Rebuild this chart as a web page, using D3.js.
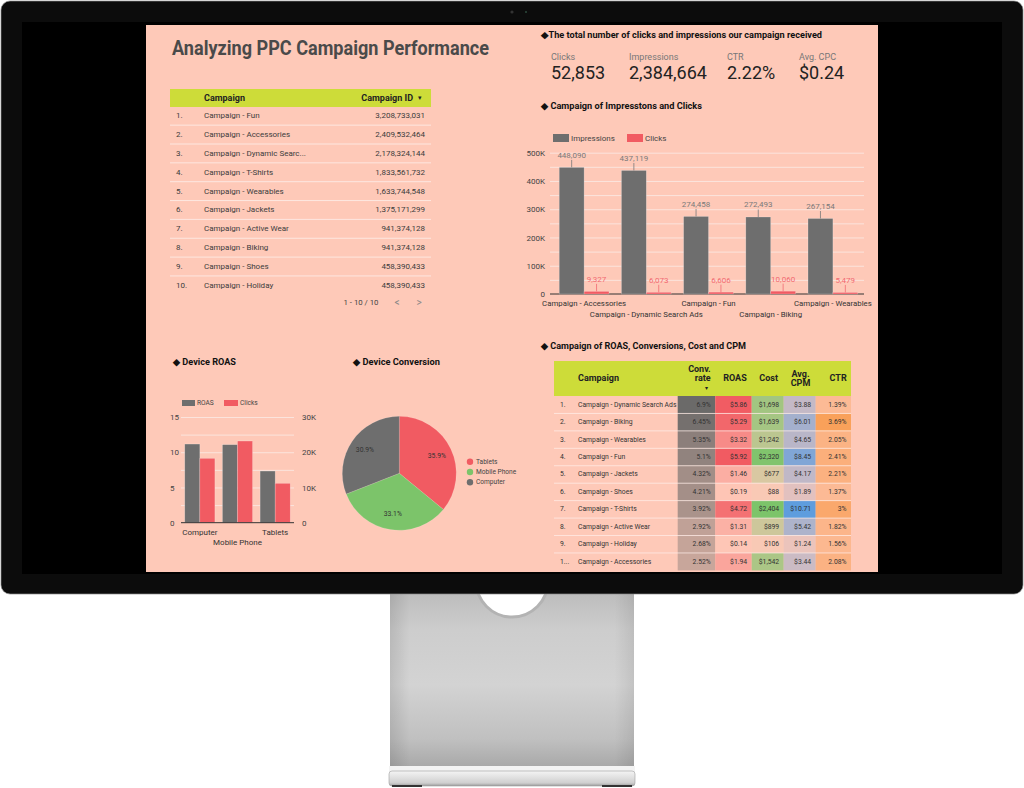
<!DOCTYPE html>
<html><head><meta charset="utf-8">
<script src="https://cdn.jsdelivr.net/npm/d3@7"></script>
<style>
html,body{margin:0;padding:0;background:#fff;}
svg{display:block;font-family:Roboto,"Noto Sans",sans-serif;}
</style></head><body>
<svg id="c" width="1024" height="788"></svg>
<script>
// ---------------- DATA ----------------
const titleText = "Analyzing PPC Campaign Performance";
const idCampaigns = ["Campaign - Fun","Campaign - Accessories","Campaign - Dynamic Search Ads","Campaign - T-Shirts","Campaign - Wearables","Campaign - Jackets","Campaign - Active Wear","Campaign - Biking","Campaign - Shoes","Campaign - Holiday"];
const idValues = [3208733031,2409532464,2178324144,1833561732,1633744548,1375171299,941374128,941374128,458390433,458390433];
const kpiLabels = ["Clicks","Impressions","CTR","Avg. CPC"];
const kpiValues = ["52,853","2,384,664","2.22%","$0.24"];
const barCategories = ["Campaign - Accessories","Campaign - Dynamic Search Ads","Campaign - Fun","Campaign - Biking","Campaign - Wearables"];
const impressions = [448090,437119,274458,272493,267154];
const clicks = [9327,6073,6606,10060,5479];
const barYTicks = [0,100000,200000,300000,400000,500000];
const devices = ["Computer","Mobile Phone","Tablets"];
const deviceROAS = [11.16,11.07,7.33];
const deviceClicks = [18270,23180,11180];
const roasTicks = [0,5,10,15];
const clickTicks = [0,10000,20000,30000];
const pieLabels = ["Tablets","Mobile Phone","Computer"];
const pieValues = [35.9,33.1,30.9];
const perfCampaigns = ["Campaign - Dynamic Search Ads","Campaign - Biking","Campaign - Wearables","Campaign - Fun","Campaign - Jackets","Campaign - Shoes","Campaign - T-Shirts","Campaign - Active Wear","Campaign - Holiday","Campaign - Accessories"];
const convRate = [6.9,6.45,5.35,5.1,4.32,4.21,3.92,2.92,2.68,2.52];
const roasVals = [5.86,5.29,3.32,5.92,1.46,0.19,4.72,1.31,0.14,1.94];
const costVals = [1698,1639,1242,2320,677,88,2404,899,106,1542];
const cpmVals = [3.88,6.01,4.65,8.45,4.17,1.89,10.71,5.42,1.24,3.44];
const ctrVals = [1.39,3.69,2.05,2.41,2.21,1.37,3,1.82,1.56,2.08];

// ---------------- STYLE ----------------
const BG = "#fec9b8", GREEN = "#cddc39", GRAY = "#6e6e6e", RED = "#f15b62", PGREEN = "#7cc46a";
const GRID = "#fbe4dd";
const svg = d3.select("#c");
const defs = svg.append("defs");

function T(p, x, y, s, o = {}) {
  const t = p.append("text").attr("x", x).attr("y", y).text(s)
    .attr("font-size", o.size || 8).attr("fill", o.fill || "#333")
    .attr("text-anchor", o.anchor || "start").attr("dominant-baseline", "central");
  if (o.bold) t.attr("font-weight", "bold");
  if (o.len) t.attr("textLength", o.len).attr("lengthAdjust", "spacingAndGlyphs");
  return t;
}

// ---------------- MONITOR ----------------
const ng = defs.append("linearGradient").attr("id", "neck").attr("x1", 0).attr("y1", 0).attr("x2", 0).attr("y2", 1);
[[0, "#b9b9b9"], [0.25, "#cdcdcd"], [0.55, "#d3d3d3"], [0.85, "#c0c0c0"], [1, "#a9a9a9"]]
  .forEach(([o, c]) => ng.append("stop").attr("offset", o).attr("stop-color", c));
const nh = defs.append("linearGradient").attr("id", "neckH").attr("x1", 0).attr("y1", 0).attr("x2", 1).attr("y2", 0);
[[0, "rgba(0,0,0,0.10)"], [0.08, "rgba(0,0,0,0)"], [0.92, "rgba(0,0,0,0)"], [1, "rgba(0,0,0,0.08)"]]
  .forEach(([o, c]) => nh.append("stop").attr("offset", o).attr("stop-color", c));
const bg2 = defs.append("linearGradient").attr("id", "base").attr("x1", 0).attr("y1", 0).attr("x2", 0).attr("y2", 1);
[[0, "#f4f4f4"], [0.4, "#e2e2e2"], [0.8, "#cfcfcf"], [1, "#9a9a9a"]]
  .forEach(([o, c]) => bg2.append("stop").attr("offset", o).attr("stop-color", c));

svg.append("rect").attr("x", 0).attr("y", 0).attr("width", 1024).attr("height", 788).attr("fill", "#fff");
svg.append("rect").attr("x", 390).attr("y", 585).attr("width", 244).attr("height", 181).attr("fill", "url(#neck)");
svg.append("rect").attr("x", 390).attr("y", 585).attr("width", 244).attr("height", 181).attr("fill", "url(#neckH)");
svg.append("circle").attr("cx", 512).attr("cy", 581).attr("r", 36).attr("fill", "#fff").attr("stroke", "#b3b3b3").attr("stroke-width", 3);
svg.append("rect").attr("x", 389).attr("y", 766).attr("width", 246).attr("height", 6).attr("fill", "#f3f3f3");
svg.append("rect").attr("x", 389).attr("y", 771).attr("width", 246).attr("height", 15).attr("rx", 3).attr("fill", "url(#base)").attr("stroke", "#a0a0a0").attr("stroke-width", 0.6);
svg.append("rect").attr("x", 392).attr("y", 785).attr("width", 30).attr("height", 2).attr("fill", "#333");
svg.append("rect").attr("x", 602).attr("y", 785).attr("width", 30).attr("height", 2).attr("fill", "#333");

svg.append("rect").attr("x", 1).attr("y", 1).attr("width", 1022).attr("height", 593).attr("rx", 9)
  .attr("fill", "#0c0c0c").attr("stroke", "#8a8a8a").attr("stroke-width", 0.7);
svg.append("rect").attr("x", 22).attr("y", 22).attr("width", 980).attr("height", 552).attr("fill", "#000");
svg.append("circle").attr("cx", 512).attr("cy", 12).attr("r", 1.6).attr("fill", "#333");
svg.append("circle").attr("cx", 526).attr("cy", 12).attr("r", 1).attr("fill", "#2c4a3c");

// ---------------- DASHBOARD ----------------
svg.append("rect").attr("x", 146).attr("y", 25).attr("width", 732).attr("height", 547).attr("fill", BG);
T(svg, 172, 48, titleText, {size: 20, bold: true, fill: "#4a4a4a", len: 317});

// Left table
svg.append("rect").attr("x", 170).attr("y", 89).attr("width", 261).attr("height", 18).attr("fill", GREEN);
T(svg, 204, 98, "Campaign", {size: 9, bold: true, fill: "#222"});
T(svg, 413, 98, "Campaign ID", {size: 9, bold: true, fill: "#222", anchor: "end"});
T(svg, 420, 98, "▾", {size: 7, fill: "#222", anchor: "middle"});
const rowsL = d3.scaleBand().domain(d3.range(idCampaigns.length)).range([106.3, 106.3 + 18.85 * idCampaigns.length]);
const trunc = s => s.length > 24 ? s.slice(0, 24) + "..." : s;
const fmtC = d3.format(",");
idCampaigns.forEach((c, i) => {
  const cy = rowsL(i) + rowsL.bandwidth() / 2;
  T(svg, 176, cy, (i + 1) + ".", {size: 8, fill: "#3c3c3c"});
  T(svg, 204, cy, trunc(c), {size: 8, fill: "#3c3c3c"});
  T(svg, 425, cy, fmtC(idValues[i]), {size: 8, fill: "#3c3c3c", anchor: "end"});
  if (i < idCampaigns.length - 1)
    svg.append("line").attr("x1", 170).attr("x2", 431).attr("y1", rowsL(i) + rowsL.bandwidth()).attr("y2", rowsL(i) + rowsL.bandwidth())
      .attr("stroke", "#fde7e0").attr("stroke-width", 1);
});
T(svg, 361, 302, "1 - 10 / 10", {size: 7.8, fill: "#444", anchor: "middle"});
T(svg, 397, 302, "<", {size: 10, fill: "#888", anchor: "middle"});
T(svg, 419, 302, ">", {size: 10, fill: "#888", anchor: "middle"});

// KPIs
T(svg, 541, 35, "◆The total number of clicks and impressions our campaign received", {size: 8.5, bold: true, fill: "#111", len: 281});
const kpiX = [551, 629, 727, 799];
kpiLabels.forEach((l, i) => {
  T(svg, kpiX[i], 57, l, {size: 9, fill: "#777"});
  T(svg, kpiX[i], 72.5, kpiValues[i], {size: 18, fill: "#222"});
});

// Bar chart: impressions & clicks
T(svg, 541, 105.5, "◆ Campaign of  Impresstons and Clicks", {size: 9, bold: true, fill: "#111", len: 161});
const bx = d3.scaleBand().domain(barCategories).range([553, 864]).paddingInner(0.2).paddingOuter(0.1);
const bsub = d3.scaleBand().domain(["imp", "clk"]).range([0, bx.bandwidth()]);
const by = d3.scaleLinear().domain([0, 500000]).range([294, 152.7]);
const gGrid = svg.append("g").attr("transform", "translate(550,0)")
  .call(d3.axisLeft(by).tickValues(d3.range(50000, 500001, 50000)).tickSize(-314).tickFormat(""));
gGrid.select(".domain").remove();
gGrid.selectAll("line").attr("stroke", GRID).attr("stroke-width", 1);
const gY = svg.append("g").attr("transform", "translate(545,0)")
  .call(d3.axisLeft(by).tickValues(barYTicks).tickSize(0).tickPadding(0).tickFormat(d => d === 0 ? "0" : d / 1000 + "K"));
gY.select(".domain").remove();
gY.selectAll("text").attr("font-size", 8).attr("fill", "#444").attr("font-family", "Roboto");
svg.append("line").attr("x1", 550).attr("x2", 864).attr("y1", 294).attr("y2", 294).attr("stroke", "#333").attr("stroke-width", 1);
const series = [{k: "imp", vals: impressions, color: GRAY, lab: "#7a7a7a"}, {k: "clk", vals: clicks, color: RED, lab: "#f26a72"}];
series.forEach(s => {
  barCategories.forEach((c, i) => {
    const x = bx(c) + bsub(s.k), w = bsub.bandwidth(), v = s.vals[i], yT = by(v);
    svg.append("rect").attr("x", x).attr("y", yT).attr("width", w).attr("height", by(0) - yT)
      .attr("fill", s.color).attr("stroke", "rgba(255,255,255,0.35)").attr("stroke-width", 0.6);
    svg.append("line").attr("x1", x + w / 2).attr("x2", x + w / 2).attr("y1", yT - 7.5).attr("y2", yT)
      .attr("stroke", s.lab).attr("stroke-width", 0.8);
    T(svg, x + w / 2, yT - 12, fmtC(v), {size: 8, fill: s.lab, anchor: "middle"});
  });
});
barCategories.forEach((c, i) => {
  T(svg, bx(c) + bx.bandwidth() / 2, i % 2 === 0 ? 303.7 : 314, c, {size: 7.8, fill: "#333", anchor: "middle"});
});
svg.append("rect").attr("x", 553).attr("y", 134).attr("width", 16).attr("height", 8).attr("fill", GRAY);
T(svg, 571, 138, "Impressions", {size: 8, fill: "#444"});
svg.append("rect").attr("x", 627).attr("y", 134).attr("width", 16).attr("height", 8).attr("fill", RED);
T(svg, 645, 138, "Clicks", {size: 8, fill: "#444"});

// Device ROAS
T(svg, 173, 362, "◆ Device ROAS", {size: 9, bold: true, fill: "#111", len: 63});
const dx = d3.scaleBand().domain(devices).range([181, 294]).paddingInner(0.2).paddingOuter(0.1);
const dsub = d3.scaleBand().domain(["roas", "clk"]).range([0, dx.bandwidth()]);
const dy = d3.scaleLinear().domain([0, 15]).range([522.7, 417]);
const dy2 = d3.scaleLinear().domain([0, 30000]).range([522.7, 417]);
const gG2 = svg.append("g").attr("transform", "translate(181,0)")
  .call(d3.axisLeft(dy).tickValues(d3.range(2.5, 15.1, 2.5)).tickSize(-113).tickFormat(""));
gG2.select(".domain").remove();
gG2.selectAll("line").attr("stroke", GRID);
const gL = svg.append("g").attr("transform", "translate(170,0)")
  .call(d3.axisRight(dy).tickValues(roasTicks).tickSize(0).tickPadding(0));
gL.select(".domain").remove();
gL.selectAll("text").attr("font-size", 8).attr("fill", "#444").attr("font-family", "Roboto");
const gR = svg.append("g").attr("transform", "translate(302,0)")
  .call(d3.axisRight(dy2).tickValues(clickTicks).tickSize(0).tickPadding(0).tickFormat(d => d === 0 ? "0" : d / 1000 + "K"));
gR.select(".domain").remove();
gR.selectAll("text").attr("font-size", 8).attr("fill", "#444").attr("font-family", "Roboto");
devices.forEach((d, i) => {
  const w = dsub.bandwidth();
  const x1 = dx(d) + dsub("roas"), y1 = dy(deviceROAS[i]);
  svg.append("rect").attr("x", x1).attr("y", y1).attr("width", w).attr("height", dy(0) - y1)
    .attr("fill", GRAY).attr("stroke", "rgba(255,255,255,0.35)").attr("stroke-width", 0.6);
  const x2 = dx(d) + dsub("clk"), y2 = dy2(deviceClicks[i]);
  svg.append("rect").attr("x", x2).attr("y", y2).attr("width", w).attr("height", dy2(0) - y2)
    .attr("fill", RED).attr("stroke", "rgba(255,255,255,0.35)").attr("stroke-width", 0.6);
  T(svg, dx(d) + dx.bandwidth() / 2, i === 1 ? 542 : 532, d, {size: 8, fill: "#333", anchor: "middle"});
});
svg.append("line").attr("x1", 181).attr("x2", 294).attr("y1", 522.7).attr("y2", 522.7).attr("stroke", "#333");
svg.append("rect").attr("x", 182).attr("y", 400).attr("width", 13).attr("height", 6).attr("fill", GRAY);
T(svg, 197, 403, "ROAS", {size: 6.6, fill: "#444"});
svg.append("rect").attr("x", 224).attr("y", 400).attr("width", 14).attr("height", 6).attr("fill", RED);
T(svg, 240, 403, "Clicks", {size: 6.6, fill: "#444"});

// Device Conversion pie
T(svg, 353, 362, "◆ Device Conversion", {size: 9, bold: true, fill: "#111", len: 87});
const pieColors = d3.scaleOrdinal().domain(pieLabels).range([RED, PGREEN, GRAY]);
const arcs = d3.pie().sort(null)(pieValues);
const arc = d3.arc().innerRadius(0).outerRadius(57);
const labArc = d3.arc().innerRadius(41.6).outerRadius(41.6);
const gp = svg.append("g").attr("transform", "translate(399.3,473.3)");
gp.selectAll("path").data(arcs).join("path").attr("d", arc).attr("fill", (d, i) => pieColors(pieLabels[i]))
  .attr("stroke", "rgba(255,255,255,0.25)").attr("stroke-width", 0.5);
arcs.forEach((a, i) => {
  const [cx, cy] = labArc.centroid(a);
  T(gp, cx, cy, pieValues[i] + "%", {size: 6.8, fill: "#333", anchor: "middle"});
});
pieLabels.forEach((l, i) => {
  svg.append("circle").attr("cx", 470).attr("cy", 461.7 + i * 10.3).attr("r", 3.2).attr("fill", pieColors(l));
  T(svg, 476, 461.7 + i * 10.3, l, {size: 6.6, fill: "#444"});
});

// Right table
T(svg, 541, 346, "◆ Campaign of ROAS, Conversions, Cost and CPM", {size: 9, bold: true, fill: "#111", len: 205});
svg.append("rect").attr("x", 554).attr("y", 361).attr("width", 297).attr("height", 35).attr("fill", GREEN);
T(svg, 578, 378.3, "Campaign", {size: 9, bold: true, fill: "#222"});
T(svg, 710.7, 369, "Conv.", {size: 9, bold: true, fill: "#222", anchor: "end"});
T(svg, 710.7, 378.3, "rate", {size: 9, bold: true, fill: "#222", anchor: "end"});
T(svg, 706, 387.5, "▾", {size: 6, fill: "#222", anchor: "middle"});
T(svg, 746.7, 378.3, "ROAS", {size: 9, bold: true, fill: "#222", anchor: "end"});
T(svg, 778, 378.3, "Cost", {size: 9, bold: true, fill: "#222", anchor: "end"});
T(svg, 800.5, 374.3, "Avg.", {size: 9, bold: true, fill: "#222", anchor: "middle"});
T(svg, 800.5, 382.7, "CPM", {size: 9, bold: true, fill: "#222", anchor: "middle"});
T(svg, 846.7, 378.3, "CTR", {size: 9, bold: true, fill: "#222", anchor: "end"});

const rowsR = d3.scaleBand().domain(d3.range(perfCampaigns.length)).range([396, 396 + 17.44 * perfCampaigns.length]);
const cols = [
  {vals: convRate, x0: 677.7, x1: 715.3, full: "#6b6a69", f: v => v + "%"},
  {vals: roasVals, x0: 715.3, x1: 751.7, full: "#f15b62", f: v => "$" + v.toFixed(2)},
  {vals: costVals, x0: 751.7, x1: 783.7, full: "#7cc46a", f: v => "$" + fmtC(v)},
  {vals: cpmVals, x0: 783.7, x1: 815.7, full: "#5e9dde", f: v => "$" + v.toFixed(2)},
  {vals: ctrVals, x0: 815.7, x1: 851, full: "#f9a15a", f: v => v + "%"}
];
cols.forEach(col => {
  const mx = d3.max(col.vals);
  const cs = d3.scaleLinear().domain([0, mx]).range([BG, col.full]).interpolate(d3.interpolateRgb);
  col.vals.forEach((v, i) => {
    svg.append("rect").attr("x", col.x0).attr("y", rowsR(i)).attr("width", col.x1 - col.x0).attr("height", rowsR.bandwidth())
      .attr("fill", cs(v));
  });
});
perfCampaigns.forEach((c, i) => {
  const cy = rowsR(i) + rowsR.bandwidth() / 2;
  T(svg, 560, cy, i < 9 ? (i + 1) + "." : "1...", {size: 6.8, fill: "#333"});
  T(svg, 578, cy, c, {size: 6.8, fill: "#333"});
  cols.forEach(col => T(svg, col.x1 - 4.5, cy, col.f(col.vals[i]), {size: 6.8, fill: "#333", anchor: "end"}));
  if (i < perfCampaigns.length - 1)
    svg.append("line").attr("x1", 554).attr("x2", 851).attr("y1", rowsR(i) + rowsR.bandwidth()).attr("y2", rowsR(i) + rowsR.bandwidth())
      .attr("stroke", "rgba(255,240,235,0.7)").attr("stroke-width", 1);
});
</script>
</body></html>
